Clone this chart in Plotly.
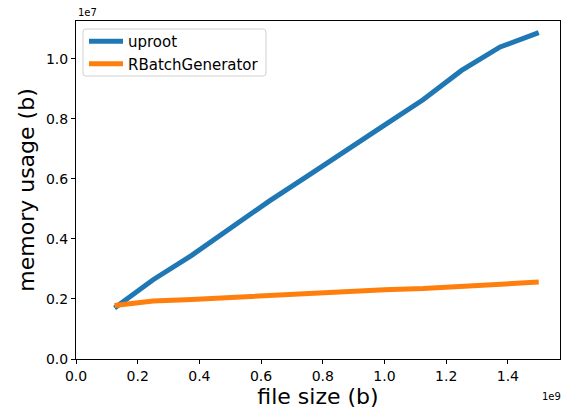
import plotly.graph_objects as go

file_size = [1.25e8, 2.5e8, 3.75e8, 5.0e8, 6.25e8, 7.5e8, 8.75e8, 1.0e9, 1.125e9, 1.25e9, 1.375e9, 1.5e9]
uproot_mem = [1.70e6, 2.64e6, 3.45e6, 4.35e6, 5.25e6, 6.09e6, 6.96e6, 7.79e6, 8.63e6, 9.61e6, 10.39e6, 10.87e6]
rbatch_mem = [1.78e6, 1.93e6, 1.98e6, 2.05e6, 2.10e6, 2.16e6, 2.22e6, 2.31e6, 2.35e6, 2.43e6, 2.50e6, 2.56e6]

series_names = ["uproot", "RBatchGenerator"]
series_colors = ["#1f77b4", "#ff7f0e"]

x_tick_vals = [0, 2e8, 4e8, 6e8, 8e8, 1.0e9, 1.2e9, 1.4e9]
x_tick_text = ["0.0", "0.2", "0.4", "0.6", "0.8", "1.0", "1.2", "1.4"]
y_tick_vals = [0, 2e6, 4e6, 6e6, 8e6, 1.0e7]
y_tick_text = ["0.0", "0.2", "0.4", "0.6", "0.8", "1.0"]

x_range = [0, 1.569e9]
y_range = [0, 1.1255e7]

FONT = "DejaVu Sans"
W, H = 562, 409
ML, MR, MT, MB = 76, 2, 21, 50
PW, PH = W - ML - MR, H - MT - MB


def px_x(p):
    return (p - ML) / PW


def px_y(p):
    return (H - MB - p) / PH


fig = go.Figure()
for name, ys, col in zip(series_names, [uproot_mem, rbatch_mem], series_colors):
    fig.add_trace(go.Scatter(x=file_size, y=ys, mode="lines", name=name,
                             line=dict(color=col, width=5)))

axis_common = dict(showline=True, linecolor="black", linewidth=1, mirror=True,
                   ticks="outside", ticklen=4, tickwidth=1, tickcolor="black",
                   showgrid=False, zeroline=False,
                   tickfont=dict(family=FONT, size=14, color="black"))

fig.update_xaxes(range=x_range, tickvals=x_tick_vals, ticktext=x_tick_text,
                 title=dict(text="file size (b)", font=dict(family=FONT, size=22, color="black"), standoff=6),
                 **axis_common)
fig.update_yaxes(range=y_range, tickvals=y_tick_vals, ticktext=y_tick_text,
                 title=dict(text="memory usage (b)", font=dict(family=FONT, size=22, color="black"), standoff=5),
                 **axis_common)

fig.add_annotation(text="1e7", xref="paper", yref="paper", x=0, y=1, xanchor="left", yanchor="bottom",
                   showarrow=False, font=dict(family=FONT, size=10, color="black"), yshift=1)
fig.add_annotation(text="1e9", xref="paper", yref="paper", x=1, y=0, xanchor="right", yanchor="top",
                   showarrow=False, font=dict(family=FONT, size=10, color="black"), yshift=-30, xshift=3)

# legend frame (rounded, light grey) like matplotlib
x0, x1 = px_x(83), px_x(266)
y0, y1 = px_y(76), px_y(29)
r_x, r_y = 3 / PW, 3 / PH
path = (f"M {x0 + r_x},{y0} L {x1 - r_x},{y0} Q {x1},{y0} {x1},{y0 + r_y} "
        f"L {x1},{y1 - r_y} Q {x1},{y1} {x1 - r_x},{y1} "
        f"L {x0 + r_x},{y1} Q {x0},{y1} {x0},{y1 - r_y} "
        f"L {x0},{y0 + r_y} Q {x0},{y0} {x0 + r_x},{y0} Z")
fig.add_shape(type="path", path=path, xref="paper", yref="paper",
              line=dict(color="#d0d0d0", width=1), fillcolor="rgba(255,255,255,0.8)", layer="above")

fig.update_layout(
    width=W, height=H,
    margin=dict(l=ML, r=MR, t=MT, b=MB, autoexpand=False),
    plot_bgcolor="white", paper_bgcolor="white",
    font=dict(family=FONT, color="black"),
    legend=dict(x=px_x(84), y=px_y(25), xanchor="left", yanchor="top",
                bgcolor="rgba(0,0,0,0)", borderwidth=0,
                font=dict(family=FONT, size=15, color="black"), tracegroupgap=0,
                itemwidth=34),
    showlegend=True,
)

fig.write_html("out.html", config={"displayModeBar": False},
               post_script="document.body.style.margin='0';document.body.style.overflow='hidden';")
